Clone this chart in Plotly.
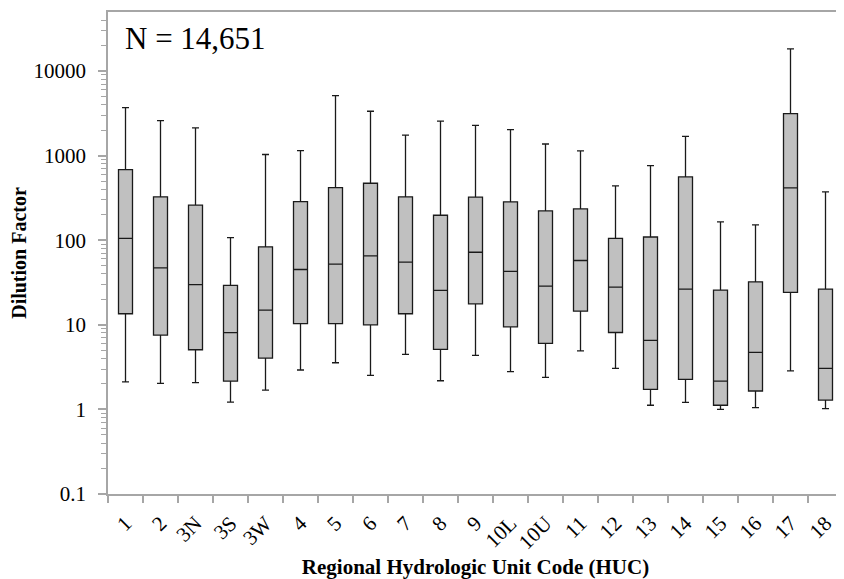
import plotly.graph_objects as go

categories = ["1", "2", "3N", "3S", "3W", "4", "5", "6", "7", "8", "9",
              "10L", "10U", "11", "12", "13", "14", "15", "16", "17", "18"]
upper_whisker = [3690, 2590, 2120, 107, 1030, 1145, 5120, 3340, 1740, 2550, 2280,
                 2030, 1370, 1135, 439, 762, 1690, 165, 152, 18200, 372]
q3_values = [684, 325, 259, 29.2, 83.4, 286, 419, 471, 325, 197, 322,
             284, 222, 234, 105, 109, 560, 25.7, 32.2, 3130, 26.4]
median_values = [105, 47, 29.9, 8.1, 14.9, 45, 52, 65.3, 55, 25.5, 72,
                 42.7, 28.6, 57.5, 27.9, 6.53, 26.4, 2.16, 4.71, 415, 3.05]
q1_values = [13.5, 7.55, 5.07, 2.16, 4.04, 10.3, 10.3, 10.0, 13.5, 5.11, 17.7,
             9.47, 6.03, 14.5, 8.11, 1.72, 2.26, 1.12, 1.65, 24.1, 1.29]
lower_whisker = [2.12, 2.03, 2.07, 1.22, 1.69, 2.92, 3.56, 2.52, 4.47, 2.18, 4.35,
                 2.79, 2.39, 4.93, 3.05, 1.12, 1.21, 1.0, 1.05, 2.86, 1.02]
y_tick_values = [0.1, 1, 10, 100, 1000, 10000]
y_tick_labels = ["0.1", "1", "10", "100", "1000", "10000"]

serif = "Liberation Serif, Times New Roman, serif"

fig = go.Figure()
fig.add_trace(go.Box(
    x=categories,
    q1=q1_values,
    median=median_values,
    q3=q3_values,
    lowerfence=lower_whisker,
    upperfence=upper_whisker,
    fillcolor="#c0c0c0",
    line=dict(color="#1a1a1a", width=1.3),
    whiskerwidth=0.5,
    width=0.4,
    boxpoints=False,
    hoverinfo="skip",
    showlegend=False,
))

fig.add_annotation(
    text="N = 14,651", xref="paper", yref="paper",
    x=0.021, y=0.946, xanchor="left", yanchor="middle",
    showarrow=False, font=dict(family=serif, size=31, color="black"),
)

axis_gray = "#a6a6a6"
fig.update_layout(
    width=836, height=571,
    margin=dict(l=100, r=1, t=4, b=85, autoexpand=False),
    paper_bgcolor="white", plot_bgcolor="white",
    font=dict(family=serif, color="black"),
    xaxis=dict(
        type="category",
        automargin=False,
        range=[-0.5, 20.5],
        tickangle=-45,
        tickson="boundaries",
        ticks="outside", ticklen=7, tickcolor=axis_gray, tickwidth=1.5,
        ticklabelstandoff=7,
        showline=True, linecolor=axis_gray, linewidth=1.5, mirror=True,
        showgrid=False, zeroline=False,
        tickfont=dict(family=serif, size=21, color="black"),
        title=dict(text="<b>Regional Hydrologic Unit Code (HUC)</b>",
                   font=dict(family=serif, size=21, color="black"), standoff=6),
    ),
    yaxis=dict(
        type="log",
        automargin=False,
        range=[-1, 4.697],
        tickvals=y_tick_values, ticktext=y_tick_labels,
        ticks="outside", ticklen=8, tickcolor=axis_gray, tickwidth=1.5,
        ticklabelstandoff=8,
        minor=dict(ticks="outside", ticklen=5, tickcolor=axis_gray, tickwidth=1,
                   dtick="D1", showgrid=False),
        showline=True, linecolor=axis_gray, linewidth=1.5,
        showgrid=False, zeroline=False,
        tickfont=dict(family=serif, size=21, color="black"),
        title=dict(text="<b>Dilution Factor</b>",
                   font=dict(family=serif, size=20, color="black"), standoff=8),
    ),
)

fig.write_html("out.html")
